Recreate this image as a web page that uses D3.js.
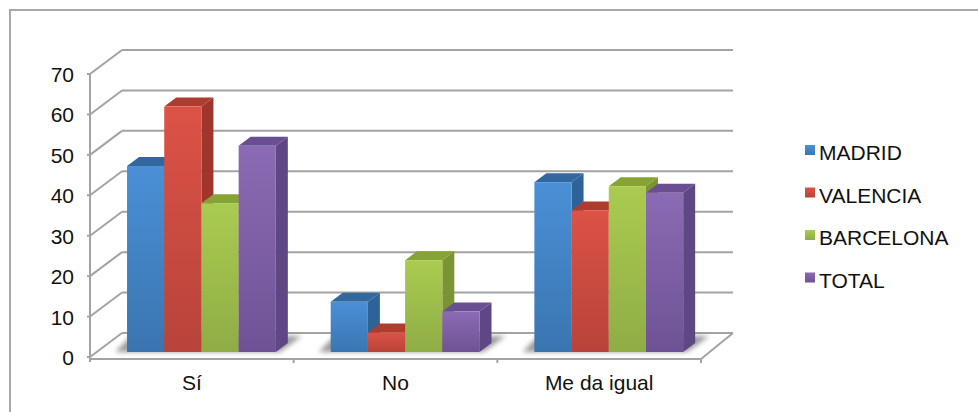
<!DOCTYPE html>
<html>
<head>
<meta charset="utf-8">
<script src="https://cdn.jsdelivr.net/npm/d3@7"></script>
<style>
html,body{margin:0;padding:0;background:#fff}
svg{display:block}
text{font-family:"Liberation Sans",Arial,sans-serif;fill:#111}
</style>
</head>
<body>
<svg id="chart" width="978" height="412"></svg>
<script>
const categories = ["Sí", "No", "Me da igual"];
const seriesNames = ["MADRID", "VALENCIA", "BARCELONA", "TOTAL"];
const madrid = [46, 12.4, 42];
const valencia = [60.7, 4.8, 35];
const barcelona = [36.8, 22.7, 41];
const total = [51, 10, 39.4];
const seriesValues = [madrid, valencia, barcelona, total];
const yTicks = [0, 10, 20, 30, 40, 50, 60, 70];

const front = ["#4a90d6", "#dc5246", "#aacb50", "#8b6bb3"];
const frontDark = ["#3a75b0", "#b8433a", "#8fad45", "#6f5296"];
const topFace = ["#33689f", "#b03c30", "#86a335", "#6a4e92"];
const sideFace = ["#2e6399", "#a0352b", "#7a9433", "#5f4684"];

const svg = d3.select("#chart");
const defs = svg.append("defs");

// Vertical shading on the front face of each series and its legend key.
front.forEach((c, i) => {
  const g = defs.append("linearGradient").attr("id", "grad" + i)
    .attr("x1", 0).attr("y1", 0).attr("x2", 0).attr("y2", 1);
  g.append("stop").attr("offset", 0).attr("stop-color", c);
  g.append("stop").attr("offset", 1).attr("stop-color", frontDark[i]);
});
defs.append("filter").attr("id", "soft")
  .attr("x", "-20%").attr("y", "-60%").attr("width", "140%").attr("height", "220%")
  .append("feGaussianBlur").attr("stdDeviation", 2.5);

// Open frame: only the top and left edges are drawn, running off the page.
const frame = svg.append("g").attr("stroke", "#a8a8a8").attr("stroke-width", 2);
frame.append("line").attr("x1", 9).attr("x2", 978).attr("y1", 10).attr("y2", 10);
frame.append("line").attr("x1", 10).attr("x2", 10).attr("y1", 9).attr("y2", 412);

// Projection of the box: scales address the front plane, the offsets reach the back wall.
const depthX = 32, depthY = -24;
const axisLeft = 90, axisRight = 701;
const y = d3.scaleLinear().domain([0, 70]).range([357, 74]);
const x = d3.scaleBand().domain(categories).range([axisLeft, axisRight]);
const barBaseShift = -5;
const barW = 37.2, barDX = 12, barDY = -9;
const groupShift = 9.6;

const grid = svg.append("g").attr("fill", "none").attr("stroke", "#a3a3a3").attr("stroke-width", 2);

// Back wall lines and their slanted run down the side wall
yTicks.forEach(t => {
  const py = y(t);
  grid.append("line").attr("x1", axisLeft + depthX).attr("x2", axisRight + depthX)
    .attr("y1", py + depthY).attr("y2", py + depthY);
  grid.append("line").attr("x1", axisLeft).attr("y1", py)
    .attr("x2", axisLeft + depthX).attr("y2", py + depthY);
  grid.append("line").attr("x1", axisLeft - 3).attr("x2", axisLeft).attr("y1", py).attr("y2", py);
});

// Value axis and front floor edge
const floorY = y(0);
const frameG = svg.append("g").attr("stroke", "#a3a3a3").attr("stroke-width", 2).attr("fill", "none");
frameG.append("line").attr("x1", axisLeft).attr("x2", axisLeft).attr("y1", y(70)).attr("y2", floorY + 5);
frameG.append("line").attr("x1", axisLeft).attr("x2", axisRight).attr("y1", floorY + 2).attr("y2", floorY + 2);
frameG.append("line").attr("x1", axisRight).attr("y1", floorY + 2)
  .attr("x2", axisRight + depthX).attr("y2", floorY + depthY);
x.domain().forEach(c => {
  const px = x(c) + x.bandwidth();
  frameG.append("line").attr("x1", px).attr("x2", px).attr("y1", floorY + 2).attr("y2", floorY + 6);
});

// Tick labels
svg.append("g").selectAll("text").data(yTicks).join("text")
  .attr("x", 74).attr("y", d => y(d) + 8).attr("text-anchor", "end")
  .attr("font-size", 21).text(d => d);
svg.append("g").selectAll("text").data(categories).join("text")
  .attr("x", d => x(d) + x.bandwidth() / 2).attr("y", 390).attr("text-anchor", "middle")
  .attr("font-size", 21).text(d => d);

// Columns, one group per category, drawn left to right so neighbours overlap correctly
categories.forEach((c, ci) => {
  const groupW = barW * seriesNames.length;
  const left = x(c) + (x.bandwidth() - groupW) / 2 + groupShift;
  const g = svg.append("g");
  const baseY = y(0) + barBaseShift;
  // Cast shadow on the floor
  g.append("path")
    .attr("d", d3.line()([[left - 12, baseY], [left + 4, baseY - 16], [left + groupW + 26, baseY - 16],
      [left + groupW + 4, baseY]]) + "Z")
    .attr("fill", "#6f6f6f").attr("opacity", 0.7).attr("filter", "url(#soft)");
  seriesNames.forEach((s, si) => {
    const v = seriesValues[si][ci];
    const x0 = left + si * barW, x1 = x0 + barW;
    const topY = y(v) + barBaseShift;
    g.append("path")
      .attr("d", d3.line()([[x1, baseY], [x1 + barDX, baseY + barDY], [x1 + barDX, topY + barDY], [x1, topY]]) + "Z")
      .attr("fill", sideFace[si]);
    g.append("path")
      .attr("d", d3.line()([[x0, topY], [x0 + barDX, topY + barDY], [x1 + barDX, topY + barDY], [x1, topY]]) + "Z")
      .attr("fill", topFace[si]);
    g.append("rect").attr("x", x0).attr("y", topY).attr("width", barW).attr("height", baseY - topY)
      .attr("fill", `url(#grad${si})`);
  });
});

// Legend
const legendY = d3.scalePoint().domain(seriesNames).range([150, 277.5]);
const legend = svg.append("g").selectAll("g").data(seriesNames).join("g")
  .attr("transform", d => `translate(805,${legendY(d)})`);
legend.append("rect").attr("x", 0).attr("y", -5).attr("width", 10).attr("height", 10)
  .attr("fill", (d, i) => `url(#grad${i})`);
legend.append("text").attr("x", 14).attr("y", 10).attr("font-size", 21).text(d => d);
</script>
</body>
</html>
